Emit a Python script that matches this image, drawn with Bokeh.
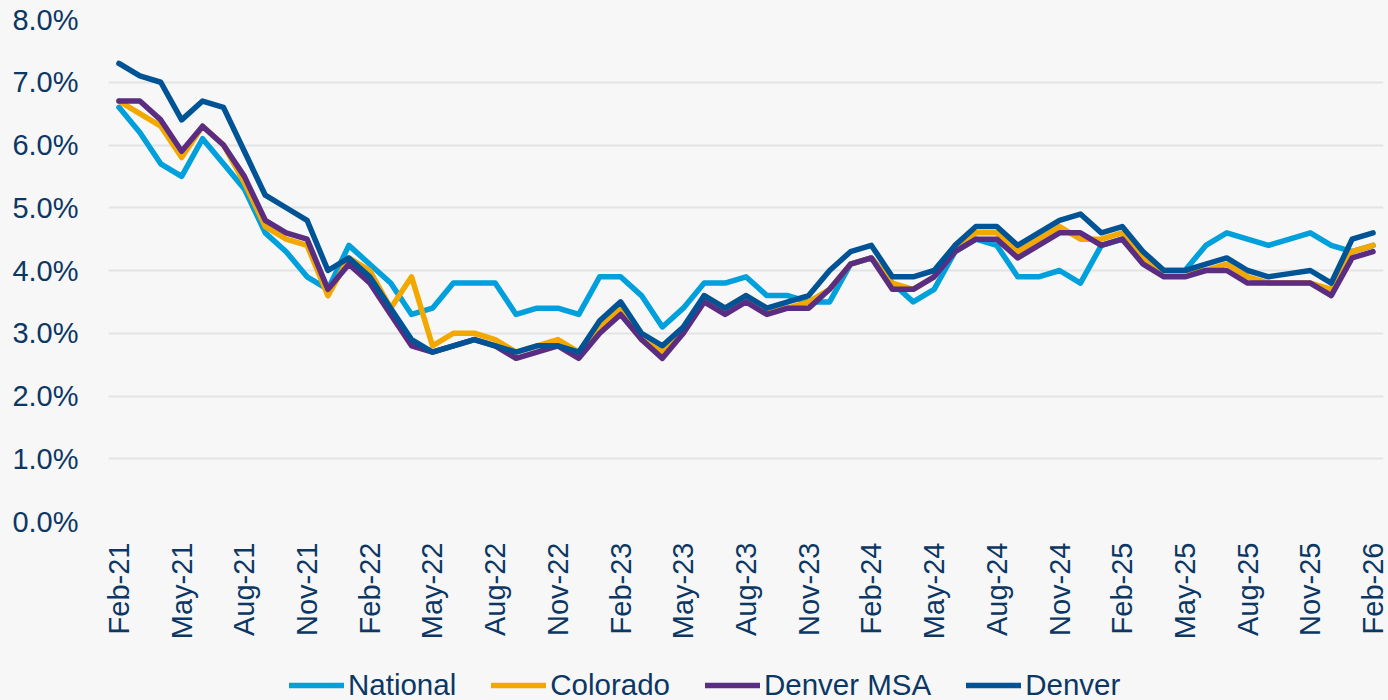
from bokeh.plotting import figure
from bokeh.models import Range1d, FixedTicker, PrintfTickFormatter, Legend, LegendItem
from bokeh.layouts import column
from bokeh.embed import file_html
from bokeh.resources import INLINE

months = ["Feb-21","Mar-21","Apr-21","May-21","Jun-21","Jul-21","Aug-21","Sep-21","Oct-21","Nov-21","Dec-21",
          "Jan-22","Feb-22","Mar-22","Apr-22","May-22","Jun-22","Jul-22","Aug-22","Sep-22","Oct-22","Nov-22","Dec-22",
          "Jan-23","Feb-23","Mar-23","Apr-23","May-23","Jun-23","Jul-23","Aug-23","Sep-23","Oct-23","Nov-23","Dec-23",
          "Jan-24","Feb-24","Mar-24","Apr-24","May-24","Jun-24","Jul-24","Aug-24","Sep-24","Oct-24","Nov-24","Dec-24",
          "Jan-25","Feb-25","Mar-25","Apr-25","May-25","Jun-25","Jul-25","Aug-25","Sep-25","Oct-25","Nov-25","Dec-25",
          "Jan-26","Feb-26"]

national = [6.6,6.2,5.7,5.5,6.1,5.7,5.3,4.6,4.3,3.9,3.7,
            4.4,4.1,3.8,3.3,3.4,3.8,3.8,3.8,3.3,3.4,3.4,3.3,
            3.9,3.9,3.6,3.1,3.4,3.8,3.8,3.9,3.6,3.6,3.5,3.5,
            4.1,4.2,3.8,3.5,3.7,4.3,4.5,4.4,3.9,3.9,4.0,3.8,
            4.4,4.5,4.2,4.0,4.0,4.4,4.6,4.5,4.4,4.5,4.6,4.4,
            4.3,4.4]
colorado = [6.7,6.5,6.3,5.8,6.3,6.0,5.4,4.7,4.5,4.4,3.6,
            4.2,4.0,3.4,3.9,2.8,3.0,3.0,2.9,2.7,2.8,2.9,2.7,
            3.1,3.4,2.9,2.7,3.0,3.6,3.4,3.6,3.4,3.4,3.5,3.7,
            4.1,4.2,3.8,3.7,3.9,4.4,4.6,4.6,4.3,4.5,4.7,4.5,
            4.5,4.6,4.2,4.0,4.0,4.0,4.1,3.9,3.8,3.8,3.8,3.7,
            4.3,4.4]
denver_msa = [6.7,6.7,6.4,5.9,6.3,6.0,5.5,4.8,4.6,4.5,3.7,
              4.1,3.8,3.3,2.8,2.7,2.8,2.9,2.8,2.6,2.7,2.8,2.6,
              3.0,3.3,2.9,2.6,3.0,3.5,3.3,3.5,3.3,3.4,3.4,3.7,
              4.1,4.2,3.7,3.7,3.9,4.3,4.5,4.5,4.2,4.4,4.6,4.6,
              4.4,4.5,4.1,3.9,3.9,4.0,4.0,3.8,3.8,3.8,3.8,3.6,
              4.2,4.3]
denver = [7.3,7.1,7.0,6.4,6.7,6.6,5.9,5.2,5.0,4.8,4.0,
          4.2,3.9,3.4,2.9,2.7,2.8,2.9,2.8,2.7,2.8,2.8,2.7,
          3.2,3.5,3.0,2.8,3.1,3.6,3.4,3.6,3.4,3.5,3.6,4.0,
          4.3,4.4,3.9,3.9,4.0,4.4,4.7,4.7,4.4,4.6,4.8,4.9,
          4.6,4.7,4.3,4.0,4.0,4.1,4.2,4.0,3.9,3.95,4.0,3.8,
          4.5,4.6]

series_names = ["National", "Colorado", "Denver MSA", "Denver"]
series_values = [national, colorado, denver_msa, denver]
series_colors = ["#00a0dc", "#f3a800", "#5a2d82", "#005496"]

y_ticks = [0, 1, 2, 3, 4, 5, 6, 7, 8]

TEXT = "#0c3764"
FONT = "Liberation Sans"
BG = "#f7f7f7"
LW = 5.5

x = list(range(len(months)))

p = figure(width=1388, height=650, output_backend="svg", toolbar_location=None,
           x_range=Range1d(-0.5, len(months) - 0.5), y_range=Range1d(0, 8),
           min_border_left=108, min_border_right=5, min_border_top=19, min_border_bottom=129,
           background_fill_color=BG, border_fill_color=BG)
p.outline_line_color = None

for name, vals, col in zip(series_names, series_values, series_colors):
    p.line(x, vals, line_color=col, line_width=LW, line_join="round", line_cap="round")

# axes
p.yaxis.ticker = FixedTicker(ticks=y_ticks)
p.yaxis.formatter = PrintfTickFormatter(format="%.1f%%")
p.xaxis.ticker = FixedTicker(ticks=list(range(0, len(months), 3)))
p.xaxis.major_label_overrides = {i: months[i] for i in range(0, len(months), 3)}
p.xaxis.major_label_orientation = 1.5707963
for ax in (p.xaxis[0], p.yaxis[0]):
    ax.axis_line_color = None
    ax.major_tick_line_color = None
    ax.minor_tick_line_color = None
    ax.major_tick_out = 0
    ax.major_tick_in = 0
    ax.major_label_text_color = TEXT
    ax.major_label_text_font = FONT
    ax.major_label_text_font_size = "29px"
p.yaxis.major_label_standoff = 30
p.xaxis.major_label_standoff = 21

p.xgrid.grid_line_color = None
p.ygrid.ticker = FixedTicker(ticks=y_ticks)
p.ygrid.grid_line_color = "#e3e3e3"
p.ygrid.grid_line_width = 2

# legend strip below the chart (its frame is aligned with the main frame)
pl = figure(width=1388, height=50, output_backend="svg", toolbar_location=None,
            x_range=Range1d(0, 1), y_range=Range1d(0, 1),
            min_border_left=0, min_border_right=0, min_border_top=0, min_border_bottom=0,
            x_axis_location=None, y_axis_location=None,
            background_fill_color=BG, border_fill_color=BG)
pl.outline_line_color = None
pl.xgrid.visible = False
pl.ygrid.visible = False

items = []
for name, col in zip(series_names, series_colors):
    # key-only renderer: its points lie outside the strip's ranges
    r = pl.line([-5, -4], [-5, -4], line_color=col, line_width=LW, line_cap="round")
    items.append(LegendItem(label=name, renderers=[r]))

legend = Legend(items=items, orientation="horizontal", location=(181, -2),
                glyph_width=55, glyph_height=30, label_height=30, label_standoff=4,
                spacing=35, padding=0, margin=0,
                label_text_font=FONT, label_text_font_size="29.5px", label_text_color=TEXT,
                border_line_color=None, background_fill_alpha=0)
pl.add_layout(legend, "center")

layout = column(p, pl, spacing=0, styles={"background-color": BG})
open("out.html", "w").write(file_html(layout, INLINE))
